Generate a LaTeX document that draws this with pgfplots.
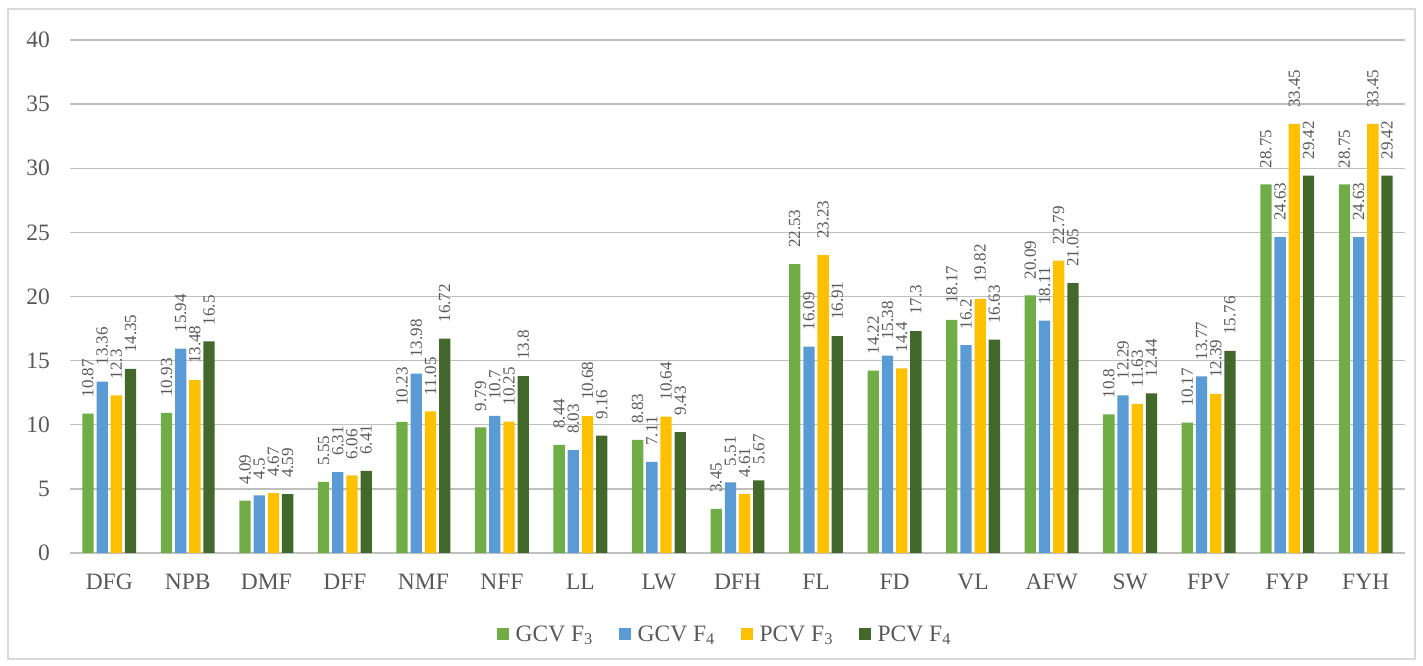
\documentclass[border=0pt]{standalone}
\usepackage{pgfplots}
\usepackage{pgfplotstable}
\pgfplotsset{compat=1.18}
\usepackage{fontspec}
\setmainfont{Liberation Serif}
\definecolor{cA}{HTML}{70AD47}
\definecolor{cB}{HTML}{5B9BD5}
\definecolor{cC}{HTML}{FFC000}
\definecolor{cD}{HTML}{43682B}
\definecolor{txt}{HTML}{595959}
\definecolor{grid}{HTML}{D9D9D9}
\pgfplotstableread{
x a b c d
0 10.87 13.36 12.3 14.35
1 10.93 15.94 13.48 16.5
2 4.09 4.5 4.67 4.59
3 5.55 6.31 6.06 6.41
4 10.23 13.98 11.05 16.72
5 9.79 10.7 10.25 13.8
6 8.44 8.03 10.68 9.16
7 8.83 7.11 10.64 9.43
8 3.45 5.51 4.61 5.67
9 22.53 16.09 23.23 16.91
10 14.22 15.38 14.4 17.3
11 18.17 16.2 19.82 16.63
12 20.09 18.11 22.79 21.05
13 10.8 12.29 11.63 12.44
14 10.17 13.77 12.39 15.76
15 28.75 24.63 33.45 29.42
16 28.75 24.63 33.45 29.42
}\datatable
\begin{document}
\begin{tikzpicture}
\useasboundingbox (0,0) rectangle (1423bp,666bp);
\draw[grid, line width=1.2bp] (8bp,7bp) rectangle (1415bp,657bp);
\begin{axis}[
  at={(70bp,113bp)}, anchor=south west,
  scale only axis, width=1335bp, height=513bp,
  ybar=2.9bp, bar width=11.3bp,
  xmin=-0.5, xmax=16.5, ymin=0, ymax=40,
  ytick={0,5,...,40},
  xtick=data,
  xticklabels={DFG,NPB,DMF,DFF,NMF,NFF,LL,LW,DFH,FL,FD,VL,AFW,SW,FPV,FYP,FYH},
  major tick length=0pt,
  xtick style={draw=none}, ytick style={draw=none},
  axis line style={draw=none},
  xmajorgrids=false,
  ymajorgrids, grid style={grid, line width=1.3bp},
  /pgf/number format/assume math mode=true,
  yticklabel style={font=\fontsize{23.5bp}{28bp}\selectfont, text=txt, anchor=east, inner sep=0pt, xshift=-20bp},
  xticklabel style={font=\fontsize{23.5bp}{28bp}\selectfont, text=txt, anchor=north, inner sep=0pt, yshift=-21bp},
  nodes near coords,
  every node near coord/.append style={font=\fontsize{17bp}{20bp}\selectfont, text=txt, rotate=90, anchor=west, inner xsep=16bp, inner ysep=0pt},
  legend columns=4,
  legend style={at={(655bp,-81bp)}, anchor=center, draw=none, fill=none,
    font=\fontsize{23.5bp}{28bp}\selectfont, text=txt,
    /tikz/every odd column/.append style={column sep=5bp},
    /tikz/every even column/.append style={column sep=24bp}},
  legend cell align=left,
  legend image code/.code={\fill[#1] (0bp,-5.8bp) rectangle (11.7bp,5.8bp);},
]
\addplot[fill=cA, draw=none] table[x=x,y=a]{\datatable};
\addplot[fill=cB, draw=none] table[x=x,y=b]{\datatable};
\addplot[fill=cC, draw=none] table[x=x,y=c]{\datatable};
\addplot[fill=cD, draw=none] table[x=x,y=d]{\datatable};
\legend{GCV F\textsubscript{3}, GCV F\textsubscript{4}, PCV F\textsubscript{3}, PCV F\textsubscript{4}}
\end{axis}
\end{tikzpicture}
\end{document}
